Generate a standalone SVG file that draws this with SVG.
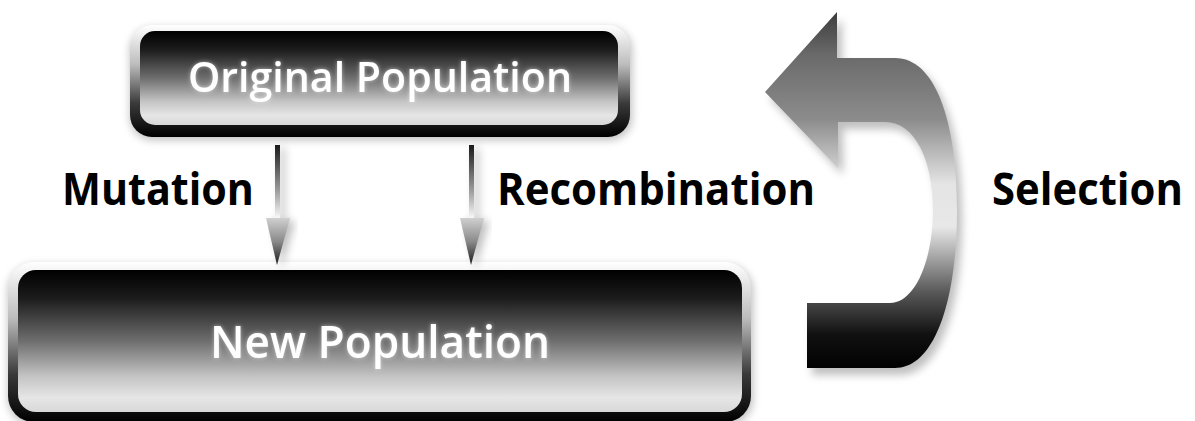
<svg xmlns="http://www.w3.org/2000/svg" width="1195" height="421" viewBox="0 0 1195 421">
  <defs>
    <linearGradient id="frame" x1="0" y1="0" x2="0" y2="1">
      <stop offset="0" stop-color="#ffffff"/>
      <stop offset="0.35" stop-color="#bdbdbd"/>
      <stop offset="0.7" stop-color="#3a3a3a"/>
      <stop offset="1" stop-color="#000000"/>
    </linearGradient>
    <linearGradient id="panel" x1="0" y1="0" x2="0" y2="1">
      <stop offset="0" stop-color="#000000"/>
      <stop offset="0.2" stop-color="#1c1c1c"/>
      <stop offset="0.5" stop-color="#6e6e6e"/>
      <stop offset="0.75" stop-color="#c4c4c4"/>
      <stop offset="0.9" stop-color="#e6e6e6"/>
      <stop offset="1" stop-color="#d8d8d8"/>
    </linearGradient>
    <linearGradient id="shaft" x1="0" y1="0" x2="0" y2="1">
      <stop offset="0" stop-color="#1a1a1a"/>
      <stop offset="0.6" stop-color="#9a9a9a"/>
      <stop offset="1" stop-color="#ffffff"/>
    </linearGradient>
    <linearGradient id="head" x1="0" y1="0" x2="0" y2="1">
      <stop offset="0" stop-color="#d0d0d0"/>
      <stop offset="0.5" stop-color="#8a8a8a"/>
      <stop offset="1" stop-color="#1a1a1a"/>
    </linearGradient>
    <linearGradient id="curve" gradientUnits="userSpaceOnUse" x1="0" y1="12" x2="0" y2="370">
      <stop offset="0" stop-color="#3c3c3c"/>
      <stop offset="0.12" stop-color="#6a6a6a"/>
      <stop offset="0.3" stop-color="#8c8c8c"/>
      <stop offset="0.48" stop-color="#e4e4e4"/>
      <stop offset="0.6" stop-color="#e8e8e8"/>
      <stop offset="0.78" stop-color="#5a5a5a"/>
      <stop offset="0.9" stop-color="#111111"/>
      <stop offset="1" stop-color="#000000"/>
    </linearGradient>
    <filter id="shadow" x="-10%" y="-10%" width="120%" height="130%">
      <feGaussianBlur stdDeviation="4"/>
    </filter>
    <filter id="glow" x="-5%" y="-20%" width="110%" height="140%">
      <feGaussianBlur in="SourceAlpha" stdDeviation="2" result="b"/>
      <feFlood flood-color="#ffffff" flood-opacity="0.5"/>
      <feComposite in2="b" operator="in" result="g"/>
      <feMerge><feMergeNode in="g"/><feMergeNode in="SourceGraphic"/></feMerge>
    </filter>
  </defs>
  <style>
    .label { font-family: "Open Sans", "Liberation Sans", sans-serif; font-weight: bold; font-size: 44px; fill: #000; }
    .boxtext { font-family: "Open Sans", "Liberation Sans", sans-serif; font-weight: 600; font-size: 42px; fill: #fff; }
    .shadow { fill: #000; opacity: 0.25; filter: url(#shadow); }
  </style>

  <g id="original-population">
    <rect class="shadow" x="130" y="28" width="502" height="112" rx="22"/>
    <rect x="130" y="25" width="500" height="112" rx="22" fill="url(#frame)"/>
    <rect x="140" y="31" width="478" height="94" rx="15" fill="url(#panel)"/>
    <text class="boxtext" x="380" y="92" text-anchor="middle" textLength="384" lengthAdjust="spacingAndGlyphs" filter="url(#glow)">Original Population</text>
  </g>

  <g id="new-population">
    <rect class="shadow" x="8" y="265" width="745" height="160" rx="26"/>
    <rect x="8" y="262" width="743" height="160" rx="26" fill="url(#frame)"/>
    <rect x="18" y="270" width="724" height="142" rx="18" fill="url(#panel)"/>
    <text class="boxtext" x="380" y="358" text-anchor="middle" textLength="340" lengthAdjust="spacingAndGlyphs" filter="url(#glow)" style="font-size:45px">New Population</text>
  </g>

  <g id="selection-arrow">
    <path class="shadow" transform="translate(5,7)" d="M765,92 L837,12 L837,58 L895,58 C935,58 957,120 957,210 C957,300 935,368 895,368 L807,368 L807,303 L890,303 C915,303 933,260 933,210 C933,160 915,122 885,122 L838,122 L838,168 Z"/>
    <path d="M765,92 L837,12 L837,58 L895,58 C935,58 957,120 957,210 C957,300 935,368 895,368 L807,368 L807,303 L890,303 C915,303 933,260 933,210 C933,160 915,122 885,122 L838,122 L838,168 Z" fill="url(#curve)"/>
  </g>

  <g id="connectors">
    <g id="mutation-arrow">
      <path class="shadow" transform="translate(5,3)" d="M275,145 L280,145 L280,218 L290,218 L277,265 L266,218 L275,218 Z"/>
      <rect x="275" y="145" width="5" height="75" fill="url(#shaft)"/>
      <polygon points="266,218 290,218 277,265" fill="url(#head)"/>
    </g>
    <g id="recombination-arrow">
      <path class="shadow" transform="translate(5,3)" d="M469,145 L474,145 L474,218 L484,218 L471,265 L460,218 L469,218 Z"/>
      <rect x="469" y="145" width="5" height="75" fill="url(#shaft)"/>
      <polygon points="460,218 484,218 471,265" fill="url(#head)"/>
    </g>
  </g>

  <g id="labels">
    <text class="label" x="62" y="205" textLength="192" lengthAdjust="spacingAndGlyphs">Mutation</text>
    <text class="label" x="497" y="205" textLength="318" lengthAdjust="spacingAndGlyphs">Recombination</text>
    <text class="label" x="992" y="205" textLength="191" lengthAdjust="spacingAndGlyphs">Selection</text>
  </g>
</svg>
